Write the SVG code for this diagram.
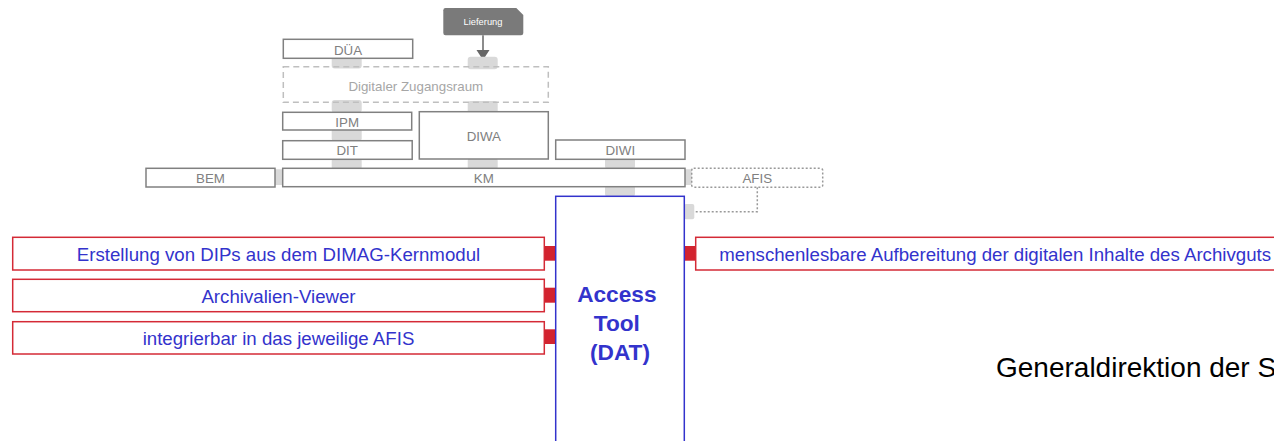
<svg xmlns="http://www.w3.org/2000/svg" width="1274" height="441" viewBox="0 0 1274 441">
<style>
  .box{fill:#fff;stroke:#808080;stroke-width:1.5}
  .lbl{font-family:"Liberation Sans",Arial,sans-serif;font-size:13.33px;fill:#808080;text-anchor:middle}
  .conn{fill:#d9d9d9}
  .rbox{fill:#fff;stroke:#d42a36;stroke-width:1.5}
  .rconn{fill:#d2232f}
  .btxt{font-family:"Liberation Sans",Arial,sans-serif;font-size:18.67px;fill:#3333cc;text-anchor:middle}
</style>
<rect width="1274" height="441" fill="#fff"/>

<g id="connectors">
  <line x1="483" y1="35.3" x2="483" y2="51" stroke="#666" stroke-width="1.5"/>
  <polygon points="476.5,50 489.5,50 483,60" fill="#666"/>
  <polyline points="757.3,187.3 757.3,211.7 694,211.7" fill="none" stroke="#999" stroke-width="1.5" stroke-dasharray="2,2"/>
  <rect class="conn" x="331.7" y="56" width="30" height="12.5" rx="3"/>
  <rect class="conn" x="467.7" y="56.7" width="30" height="12.5" rx="3"/>
  <rect class="conn" x="331.7" y="100" width="30" height="12.7" rx="3"/>
  <rect class="conn" x="467.7" y="101" width="30" height="12.3" rx="3"/>
  <rect class="conn" x="331.7" y="128.3" width="30" height="13" rx="3"/>
  <rect class="conn" x="331.7" y="158" width="30" height="12" rx="3"/>
  <rect class="conn" x="467.7" y="157.7" width="30" height="12" rx="3"/>
  <rect class="conn" x="605" y="157.3" width="30" height="11.7" rx="3"/>
  <rect class="conn" x="605" y="184.5" width="30" height="12.2" rx="3"/>
  <rect class="conn" x="273.3" y="169.3" width="10.7" height="15.7" rx="2"/>
  <rect class="conn" x="684" y="169.3" width="10.3" height="15.7" rx="2"/>
  <rect class="conn" x="684" y="204" width="10.3" height="15.3" rx="2"/>
  <rect class="rconn" x="544.3" y="246" width="11.4" height="14.7"/>
  <rect class="rconn" x="544.3" y="287.7" width="11.4" height="15"/>
  <rect class="rconn" x="544.3" y="329.3" width="11.4" height="14.7"/>
  <rect class="rconn" x="684.3" y="246" width="11.4" height="14.7"/>
</g>

<g id="lieferung">
  <path d="M445.5,8 L516.3,8 L523.3,15 L523.3,33 Q523.3,35.3 521,35.3 L445.5,35.3 Q443.3,35.3 443.3,33 L443.3,10.2 Q443.3,8 445.5,8 Z" fill="#7a7a7a"/>
  <text x="483" y="25" font-family="Liberation Sans,Arial,sans-serif" font-size="9.33" fill="#fff" text-anchor="middle">Lieferung</text>
</g>

<g id="dua">
  <rect class="box" x="283.3" y="39.3" width="129.4" height="19"/>
  <text class="lbl" x="348" y="55">DÜA</text>
</g>

<g id="zugangsraum">
  <rect x="283.3" y="66.7" width="265" height="35.6" fill="none" stroke="#bfbfbf" stroke-width="1.5" stroke-dasharray="6,4"/>
  <text class="lbl" x="415.8" y="90.5" style="fill:#a6a6a6">Digitaler Zugangsraum</text>
</g>

<g id="ipm">
  <rect class="box" x="282.7" y="112.3" width="129" height="17.7"/>
  <text class="lbl" x="347.2" y="127">IPM</text>
</g>

<g id="dit">
  <rect class="box" x="282.7" y="140.7" width="129.5" height="18.6"/>
  <text class="lbl" x="347.2" y="155">DIT</text>
</g>

<g id="diwa">
  <rect class="box" x="419.3" y="111.7" width="129" height="47.3"/>
  <text class="lbl" x="483.8" y="141">DIWA</text>
</g>

<g id="diwi">
  <rect class="box" x="555.7" y="140" width="129.3" height="19.3"/>
  <text class="lbl" x="620.3" y="154.8">DIWI</text>
</g>

<g id="bem">
  <rect class="box" x="146" y="168.3" width="129" height="18.7"/>
  <text class="lbl" x="210.5" y="183">BEM</text>
</g>

<g id="km">
  <rect class="box" x="282.7" y="168.3" width="402.3" height="18.4"/>
  <text class="lbl" x="483.8" y="183">KM</text>
</g>

<g id="afis">
  <rect x="691.7" y="168.3" width="131" height="19" rx="2" fill="#fff" stroke="#999" stroke-width="1.5" stroke-dasharray="2,2"/>
  <text class="lbl" x="757.3" y="182.7">AFIS</text>
</g>

<g id="access-tool">
  <rect x="555.7" y="196.3" width="128.6" height="260" fill="#fff" stroke="#3333cc" stroke-width="1.5"/>
  <text font-family="Liberation Sans,Arial,sans-serif" font-size="22.67" font-weight="bold" fill="#3333cc" text-anchor="middle">
    <tspan x="620" y="302.3">Access</tspan>
    <tspan x="620" y="331">Tool</tspan>
    <tspan x="620" y="359.5">(DAT)</tspan>
  </text>
</g>

<g id="dips">
  <rect class="rbox" x="12.7" y="237.3" width="531.6" height="32.7"/>
  <text class="btxt" x="278.5" y="260.7">Erstellung von DIPs aus dem DIMAG-Kernmodul</text>
</g>

<g id="viewer">
  <rect class="rbox" x="12.7" y="279.3" width="531.6" height="32.4"/>
  <text class="btxt" x="278.5" y="302.7">Archivalien-Viewer</text>
</g>

<g id="afis-int">
  <rect class="rbox" x="12.7" y="321.7" width="531.6" height="32.3"/>
  <text class="btxt" x="278.5" y="345">integrierbar in das jeweilige AFIS</text>
</g>

<g id="aufbereitung">
  <rect class="rbox" x="695.7" y="237.3" width="640" height="32.7"/>
  <text class="btxt" x="719.3" y="260.7" style="text-anchor:start">menschenlesbare Aufbereitung der digitalen Inhalte des Archivguts</text>
</g>

<text x="996" y="377.3" font-family="Liberation Sans,Arial,sans-serif" font-size="28" fill="#000">Generaldirektion der S</text>
</svg>
